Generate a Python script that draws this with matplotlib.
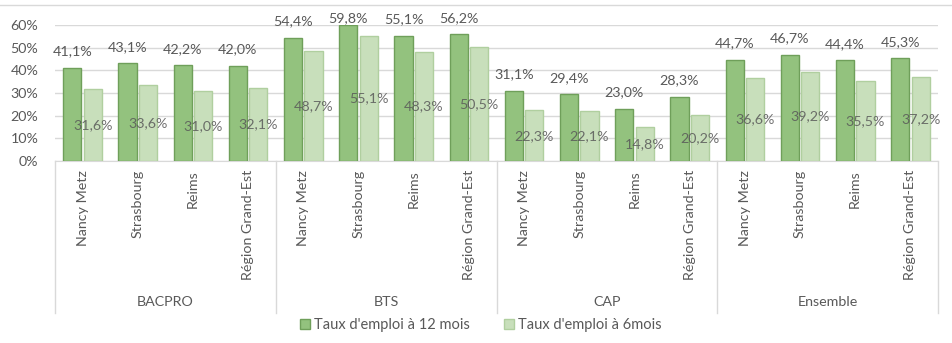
import matplotlib
matplotlib.use("Agg")
import matplotlib.pyplot as plt
from matplotlib.lines import Line2D
from matplotlib.patches import Patch
import numpy as np

plt.rcParams['font.family'] = ['Lato', 'DejaVu Sans']

groups = ["BACPRO", "BTS", "CAP", "Ensemble"]
sites = ["Nancy Metz", "Strasbourg", "Reims", "Région Grand-Est"]
taux_12_mois = [41.1, 43.1, 42.2, 42.0,
                54.4, 59.8, 55.1, 56.2,
                31.1, 29.4, 23.0, 28.3,
                44.7, 46.7, 44.4, 45.3]
taux_6_mois = [31.6, 33.6, 31.0, 32.1,
               48.7, 55.1, 48.3, 50.5,
               22.3, 22.1, 14.8, 20.2,
               36.6, 39.2, 35.5, 37.2]
series_names = ["Taux d'emploi à 12 mois", "Taux d'emploi à 6mois"]
y_ticks = [0, 10, 20, 30, 40, 50, 60]

dark_fill, dark_edge = "#93c27e", "#6f9f5a"
light_fill, light_edge = "#c8dfbb", "#b0cf9f"
text_col = "#595959"
grid_col = "#d9d9d9"

W, H = 952, 343
fig = plt.figure(figsize=(W / 100, H / 100), dpi=100)
left, right, top, bottom = 55, 938, 25, 161
ax = fig.add_axes([left / W, 1 - bottom / H, (right - left) / W, (bottom - top) / H])

n = len(taux_12_mois)
x = np.arange(n)
bw = 0.33
off = 0.185

ax.bar(x - off, taux_12_mois, bw, color=dark_fill, edgecolor=dark_edge, linewidth=1.0, zorder=3)
ax.bar(x + off, taux_6_mois, bw, color=light_fill, edgecolor=light_edge, linewidth=1.0, zorder=3)

fmt = lambda v: f"{v:.1f}%".replace(".", ",")
label_gap = 7.3      # data units between bar top and label centre
label_ceiling = 63.1  # labels are kept inside the chart area
for xi, v in zip(x, taux_12_mois):
    ax.text(xi - off, min(v + label_gap, label_ceiling), fmt(v), ha="center", va="center",
            fontsize=10.3, color=text_col, zorder=5, clip_on=False)
for xi, v in zip(x, taux_6_mois):
    ax.text(xi + off, v / 2, fmt(v), ha="center", va="center",
            fontsize=10.3, color=text_col, alpha=0.85, zorder=5)

ax.set_xlim(-0.5, n - 0.5)
ax.set_ylim(0, 60)
ax.set_yticks(y_ticks)
ax.set_yticklabels([f"{t}%" for t in y_ticks], fontsize=10.3, color=text_col)
ax.set_xticks([])
ax.grid(axis="y", color=grid_col, linewidth=1.0, zorder=0)
for s in ["top", "right", "left"]:
    ax.spines[s].set_visible(False)
ax.spines["bottom"].set_color(grid_col)
ax.tick_params(axis="y", length=0, pad=12)

# category labels, group labels and separators below the axis
trans = ax.get_xaxis_transform()
px = 1.0 / (bottom - top)  # one pixel in axes-fraction units
for i in range(n):
    ax.text(x[i], -9 * px, sites[i % 4], rotation=90, ha="center", va="top",
            fontsize=10.3, color=text_col, transform=trans, clip_on=False)
for g, name in enumerate(groups):
    ax.text(g * 4 + 1.5, -(302 - bottom) * px, name, ha="center", va="center",
            fontsize=10.3, color=text_col, transform=trans, clip_on=False)
for b in range(len(groups) + 1):
    xb = b * 4 - 0.5
    ax.add_line(Line2D([xb, xb], [0, -(313 - bottom) * px], transform=trans,
                       color=grid_col, linewidth=1.0, clip_on=False))

# legend
handles = [Patch(facecolor=dark_fill, edgecolor=dark_edge),
           Patch(facecolor=light_fill, edgecolor=light_edge)]
fig.legend(handles, series_names, loc="center", bbox_to_anchor=(0.505, 1 - 325 / H),
           ncol=2, frameon=False, fontsize=10.5, labelcolor=text_col,
           handlelength=0.7, handleheight=0.7, handletextpad=0.3, columnspacing=2.3)

# thin frame line across the top
fig.add_artist(Line2D([0, 1], [1 - 5 / H, 1 - 5 / H], transform=fig.transFigure,
                      color=grid_col, linewidth=1.0))

fig.savefig("out.png", dpi=100, facecolor="white")
